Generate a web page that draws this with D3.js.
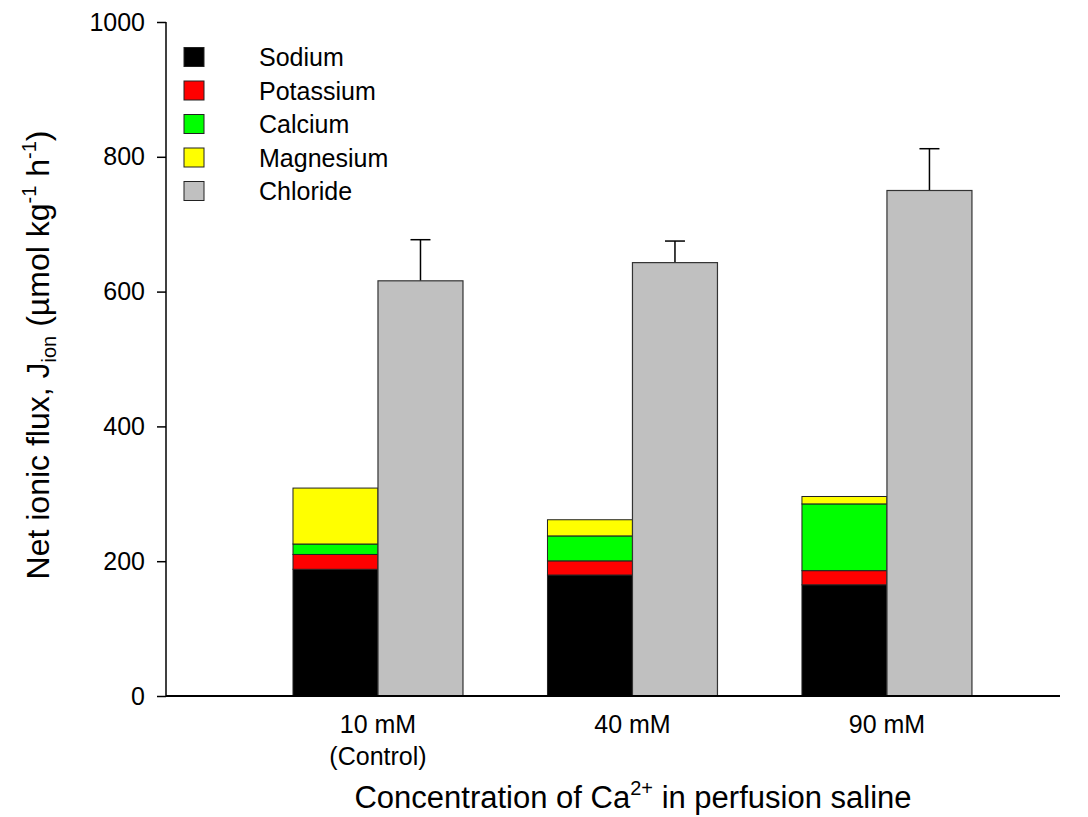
<!DOCTYPE html>
<html>
<head>
<meta charset="utf-8">
<script src="https://cdn.jsdelivr.net/npm/d3@7"></script>
<style>
  body { margin: 0; background: #fff; }
  svg { font-family: "Liberation Sans", Arial, sans-serif; }
</style>
</head>
<body>
<svg id="chart" width="1088" height="817"></svg>
<script>
  // data
  var groups = ["10 mM", "40 mM", "90 mM"];
  var groupSub = ["(Control)", "", ""];
  var ions = ["Sodium", "Potassium", "Calcium", "Magnesium"];
  var ionColors = ["#000000", "#ff0000", "#00ff00", "#ffff00"];
  var sodium = [188, 179.5, 165];
  var potassium = [22, 21, 21];
  var calcium = [15.5, 37, 99];
  var magnesium = [83, 24, 11];
  var chloride = [616, 643, 750];
  var chlorideErr = [61, 32, 62];
  var yTicks = [0, 200, 400, 600, 800, 1000];

  var svg = d3.select("#chart");

  var x = d3.scaleLinear().domain([0.167, 3.68]).range([166, 1060]);
  var y = d3.scaleLinear().domain([0, 1000]).range([696, 22]);
  var barW = x(1.334) - x(1);

  // stacked cation bars
  var cations = [sodium, potassium, calcium, magnesium];
  groups.forEach(function(g, i) {
    var base = 0;
    cations.forEach(function(series, k) {
      var v = series[i];
      svg.append("rect")
        .attr("x", x(i + 1) - barW)
        .attr("y", y(base + v))
        .attr("width", barW)
        .attr("height", y(base) - y(base + v))
        .attr("fill", ionColors[k])
        .attr("stroke", "#222")
        .attr("stroke-width", 1);
      base += v;
    });
  });

  // chloride bars with upward error bars
  groups.forEach(function(g, i) {
    var cx = x(i + 1) + barW / 2;
    svg.append("line")
      .attr("x1", cx).attr("x2", cx)
      .attr("y1", y(chloride[i])).attr("y2", y(chloride[i] + chlorideErr[i]))
      .attr("stroke", "#000").attr("stroke-width", 1.5);
    svg.append("line")
      .attr("x1", cx - 10).attr("x2", cx + 10)
      .attr("y1", y(chloride[i] + chlorideErr[i])).attr("y2", y(chloride[i] + chlorideErr[i]))
      .attr("stroke", "#000").attr("stroke-width", 1.5);
    svg.append("rect")
      .attr("x", x(i + 1))
      .attr("y", y(chloride[i]))
      .attr("width", barW)
      .attr("height", y(0) - y(chloride[i]))
      .attr("fill", "#c0c0c0")
      .attr("stroke", "#333")
      .attr("stroke-width", 1.2);
  });

  // y axis
  var yAxis = svg.append("g")
    .attr("transform", "translate(166,0)")
    .call(d3.axisLeft(y).tickValues(yTicks).tickSize(9).tickPadding(12).tickFormat(d3.format("d")));
  yAxis.selectAll("text").attr("font-size", 25).attr("fill", "#000").attr("font-family", "Liberation Sans, Arial, sans-serif");
  yAxis.selectAll("line").attr("stroke", "#000").attr("stroke-width", 1.5);
  yAxis.select(".domain").attr("d", "M166,22V696").attr("transform", "translate(-166,0)")
    .attr("stroke", "#000").attr("stroke-width", 1.5);

  // x axis baseline, no ticks
  svg.append("line")
    .attr("x1", 166).attr("x2", 1060)
    .attr("y1", y(0)).attr("y2", y(0))
    .attr("stroke", "#000").attr("stroke-width", 2);

  groups.forEach(function(g, i) {
    svg.append("text")
      .attr("x", x(i + 1)).attr("y", 733)
      .attr("text-anchor", "middle").attr("font-size", 25)
      .text(g);
    if (groupSub[i]) {
      svg.append("text")
        .attr("x", x(i + 1)).attr("y", 765)
        .attr("text-anchor", "middle").attr("font-size", 25)
        .text(groupSub[i]);
    }
  });

  // axis titles
  var xt = svg.append("text")
    .attr("x", 633).attr("y", 808)
    .attr("text-anchor", "middle").attr("font-size", 31);
  xt.append("tspan").text("Concentration of Ca");
  xt.append("tspan").attr("font-size", 20).attr("dy", -13).text("2+");
  xt.append("tspan").attr("dy", 13).text(" in perfusion saline");

  var yt = svg.append("text")
    .attr("transform", "translate(49,355) rotate(-90)")
    .attr("text-anchor", "middle").attr("font-size", 32);
  yt.append("tspan").text("Net ionic flux, J");
  yt.append("tspan").attr("font-size", 20).attr("dy", 7).text("ion");
  yt.append("tspan").attr("dy", -7).text(" (\u00b5mol kg");
  yt.append("tspan").attr("font-size", 20).attr("dy", -13).text("-1");
  yt.append("tspan").attr("dy", 13).text(" h");
  yt.append("tspan").attr("font-size", 20).attr("dy", -13).text("-1");
  yt.append("tspan").attr("dy", 13).text(")");

  // legend
  var legendNames = ions.concat(["Chloride"]);
  var legendColors = ionColors.concat(["#c0c0c0"]);
  legendNames.forEach(function(name, k) {
    var cy = 57 + k * 33.5;
    svg.append("rect")
      .attr("x", 184).attr("y", cy - 9.5)
      .attr("width", 20).attr("height", 19)
      .attr("fill", legendColors[k])
      .attr("stroke", "#222").attr("stroke-width", 1);
    svg.append("text")
      .attr("x", 259).attr("y", cy + 9)
      .attr("font-size", 25)
      .text(name);
  });
</script>
</body>
</html>
